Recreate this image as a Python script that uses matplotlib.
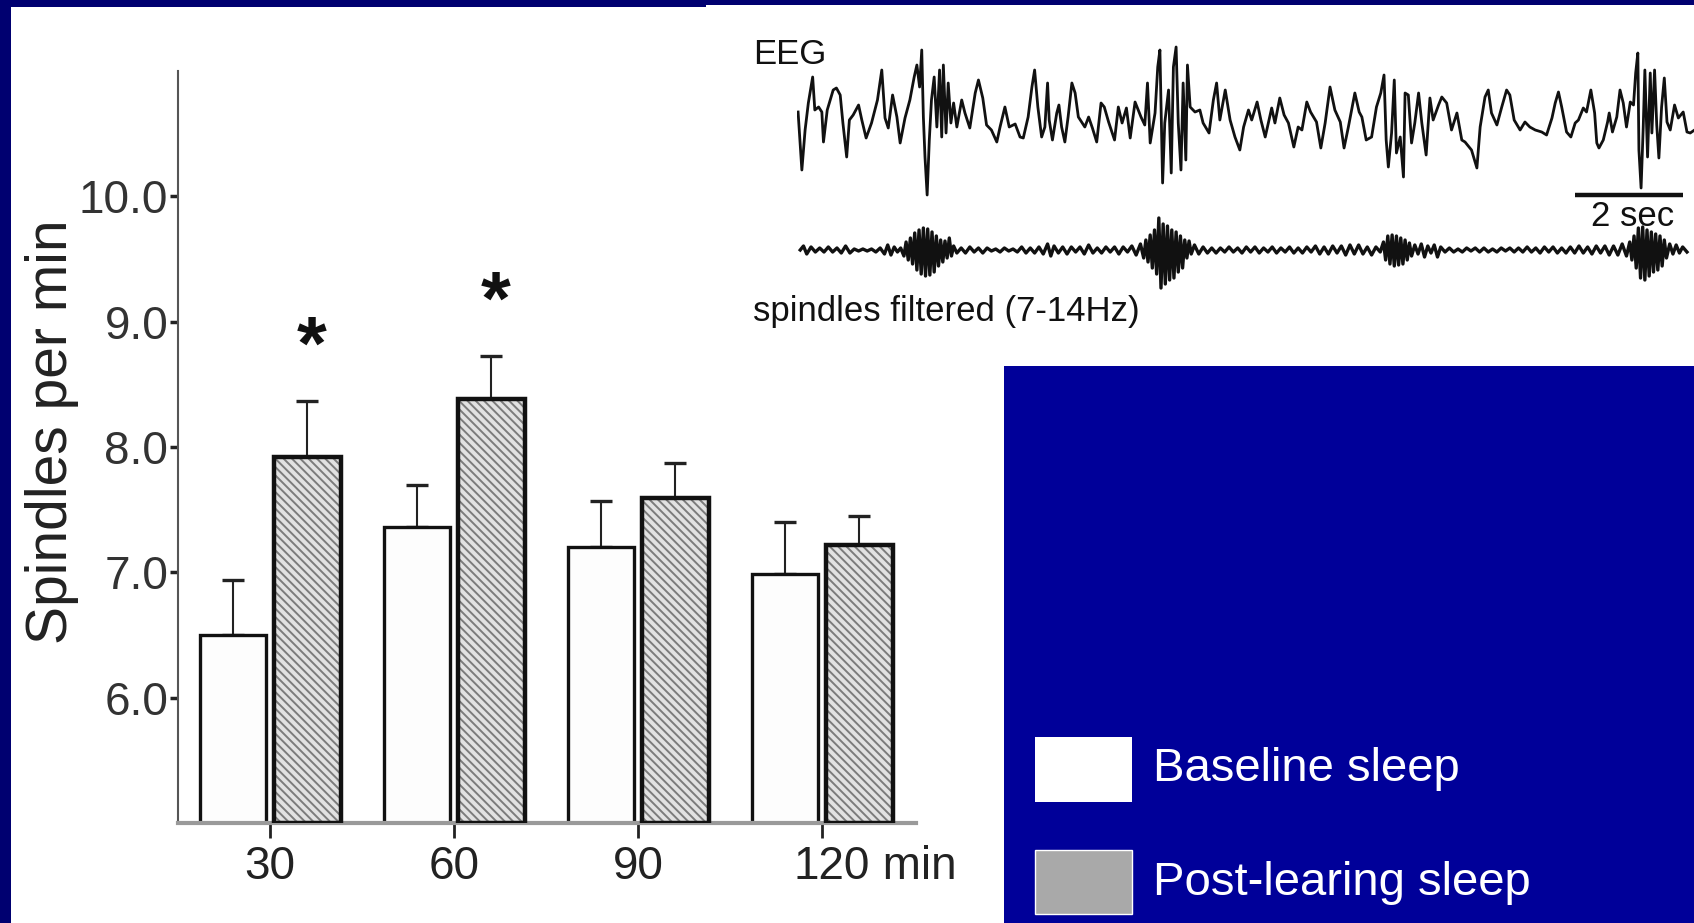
import numpy as np
import matplotlib
matplotlib.use("Agg")
import matplotlib.pyplot as plt
from matplotlib.patches import Rectangle
from matplotlib.transforms import ScaledTranslation

plt.rcParams['font.family'] = ['Liberation Sans', 'DejaVu Sans']
plt.rcParams['hatch.linewidth'] = 1.4

# bar chart data
categories = ['30', '60', '90', '120']
baseline = [6.50, 7.36, 7.20, 6.99]
baseline_sem = [0.44, 0.34, 0.37, 0.41]
post = [7.92, 8.38, 7.59, 7.22]
post_sem = [0.45, 0.35, 0.28, 0.23]
star_groups = [0, 1]
star_heights = [8.89, 9.25]
y_ticks = [6, 7, 8, 9, 10]
y_ticklabels = ['6.0', '7.0', '8.0', '9.0', '10.0']

# EEG trace: (seconds, amplitude a.u.)
eeg_points = [
    (0.02, 8), (0.09, -50), (0.15, -10), (0.21, 17), (0.29, 43), (0.33, 10), (0.40, 13), (0.46, 8),
    (0.49, -22), (0.56, 10), (0.67, 30), (0.73, 32), (0.80, 25), (0.85, -3), (0.92, -37), (0.97, 0),
    (1.04, 5), (1.14, 15), (1.20, 0), (1.28, -18), (1.38, -3), (1.49, 20), (1.57, 50), (1.63, 2),
    (1.69, -8), (1.77, 25), (1.85, 3), (1.91, -23), (2.00, 2), (2.09, 20), (2.17, 43), (2.22, 55),
    (2.27, 33), (2.31, 70), (2.34, 3), (2.37, -37), (2.41, -75), (2.45, -20), (2.49, 20), (2.54, 43),
    (2.59, -7), (2.64, 50), (2.68, -17), (2.71, 55), (2.76, -13), (2.80, 37), (2.85, -3), (2.90, 17),
    (2.96, -7), (3.05, 20), (3.11, 7), (3.20, -8), (3.30, 27), (3.36, 40), (3.44, 22), (3.51, -5),
    (3.60, -10), (3.70, -22), (3.76, -7), (3.85, 13), (3.93, -7), (4.04, -4), (4.13, -17), (4.19, -18),
    (4.28, 3), (4.35, 33), (4.40, 50), (4.46, 13), (4.53, -17), (4.59, -7), (4.64, 37), (4.67, 0),
    (4.73, -20), (4.81, 7), (4.85, 15), (4.90, -7), (4.96, -22), (5.02, 3), (5.09, 37), (5.15, 27),
    (5.21, 3), (5.27, -2), (5.33, -7), (5.40, 3), (5.47, -8), (5.55, -22), (5.63, 17), (5.69, 13),
    (5.77, -2), (5.88, -20), (5.95, 13), (6.02, -3), (6.10, 12), (6.17, -18), (6.26, 18), (6.37, 3),
    (6.44, -5), (6.49, 37), (6.54, -23), (6.63, 7), (6.68, 53), (6.72, 70), (6.77, -63), (6.81, -3),
    (6.88, 30), (6.93, -53), (6.97, 53), (7.02, 73), (7.06, -3), (7.11, -50), (7.15, 37), (7.20, -40),
    (7.23, 55), (7.28, 13), (7.37, 8), (7.46, 10), (7.52, -3), (7.63, -13), (7.71, 20), (7.77, 37),
    (7.83, 0), (7.93, 30), (8.02, 0), (8.11, -17), (8.20, -30), (8.27, -7), (8.36, 10), (8.42, 0),
    (8.52, 18), (8.59, 0), (8.67, -17), (8.79, 12), (8.85, -3), (8.94, 22), (9.02, 5), (9.10, -3),
    (9.20, -27), (9.28, -7), (9.35, -10), (9.44, 18), (9.51, 8), (9.62, -2), (9.70, -28), (9.78, -3),
    (9.87, 33), (9.96, 10), (10.06, -2), (10.13, -28), (10.21, -7), (10.33, 27), (10.41, 8), (10.46, 3),
    (10.54, -20), (10.64, -17), (10.73, 13), (10.81, 27), (10.87, 45), (10.91, -20), (10.95, -47),
    (11.01, -13), (11.06, 40), (11.10, -33), (11.17, -17), (11.23, -57), (11.26, 27), (11.32, 25),
    (11.38, -23), (11.44, -3), (11.51, 27), (11.57, -3), (11.65, -35), (11.72, 22), (11.78, 0),
    (11.88, 15), (11.94, 23), (12.03, 17), (12.12, -10), (12.22, 7), (12.31, -20), (12.37, -22),
    (12.49, -30), (12.59, -48), (12.65, -7), (12.74, 23), (12.80, 30), (12.86, 7), (12.96, -5),
    (13.05, 13), (13.14, 30), (13.20, 25), (13.28, 0), (13.39, -10), (13.48, -2), (13.57, -7),
    (13.67, -10), (13.79, -12), (13.88, -15), (13.98, 2), (14.04, 17), (14.10, 28), (14.16, 13),
    (14.25, -12), (14.33, -17), (14.41, -3), (14.47, 0), (14.56, 12), (14.62, 8), (14.70, 30),
    (14.77, 7), (14.81, -23), (14.85, -28), (14.93, -20), (15.01, -2), (15.04, 7), (15.10, -12),
    (15.18, 3), (15.24, 30), (15.30, 17), (15.36, -7), (15.43, 18), (15.49, 15), (15.53, 47),
    (15.57, 67), (15.59, -30), (15.63, -68), (15.67, -7), (15.70, 50), (15.75, -37), (15.80, 47),
    (15.83, -13), (15.88, 50), (15.92, -5), (15.96, -38), (16.01, 13), (16.06, 42), (16.11, -2),
    (16.17, -10), (16.25, 15), (16.32, 2), (16.41, 8), (16.48, -12), (16.54, -13), (16.62, -10),
]

# spindle band (7-14Hz) filtered trace
filt_points = [
    (0.06, 0), (0.12, 4), (0.18, -4), (0.26, 3), (0.34, -2), (0.42, 2), (0.50, -2), (0.58, 3),
    (0.66, -2), (0.74, 2), (0.82, -3), (0.90, 4), (0.98, -3), (1.06, 1), (1.14, -1), (1.22, 1),
    (1.30, -1), (1.38, 1), (1.46, -2), (1.54, 2), (1.62, -4), (1.68, 5), (1.74, -5), (1.80, 3),
    (1.86, -2), (1.92, 2), (1.98, -6), (2.02, 8), (2.06, -10), (2.10, 12), (2.14, -14), (2.18, 17),
    (2.22, -20), (2.26, 20), (2.30, -24), (2.34, 22), (2.38, -26), (2.42, 21), (2.46, -25), (2.50, 18),
    (2.54, -22), (2.58, 14), (2.62, -16), (2.66, 10), (2.70, -12), (2.74, 9), (2.78, -8), (2.82, 12),
    (2.86, -6), (2.90, 4), (2.96, -3), (3.04, 2), (3.12, -3), (3.20, 3), (3.28, -2), (3.36, 2),
    (3.44, -3), (3.52, 2), (3.60, -1), (3.68, 1), (3.76, -2), (3.84, 2), (3.92, -1), (4.00, 1),
    (4.08, -2), (4.16, 3), (4.24, -3), (4.32, 2), (4.40, -3), (4.48, 3), (4.56, -4), (4.64, 6),
    (4.70, -6), (4.76, 4), (4.84, -3), (4.92, 3), (5.00, -4), (5.08, 3), (5.16, -2), (5.24, 3),
    (5.32, -4), (5.40, 5), (5.48, -3), (5.56, 2), (5.64, -3), (5.72, 3), (5.80, -2), (5.88, 3),
    (5.96, -4), (6.04, 3), (6.12, -2), (6.20, 4), (6.28, -5), (6.36, 6), (6.42, -8), (6.46, 10),
    (6.50, -12), (6.54, 15), (6.58, -18), (6.62, 20), (6.66, -24), (6.70, 32), (6.74, -38), (6.78, 26),
    (6.82, -34), (6.86, 24), (6.90, -30), (6.94, 20), (6.98, -28), (7.02, 18), (7.06, -22), (7.10, 14),
    (7.14, -18), (7.18, 10), (7.22, -8), (7.26, 9), (7.30, -4), (7.36, 5), (7.44, -4), (7.52, 3),
    (7.60, -3), (7.68, 2), (7.76, -3), (7.84, 2), (7.92, -2), (8.00, 3), (8.08, -2), (8.16, 2),
    (8.24, -3), (8.32, 3), (8.40, -2), (8.48, 3), (8.56, -3), (8.64, 2), (8.72, -2), (8.80, 3),
    (8.88, -3), (8.96, 2), (9.04, -2), (9.12, 3), (9.20, -3), (9.28, 2), (9.36, -3), (9.44, 3),
    (9.52, -2), (9.60, 4), (9.68, -4), (9.76, 3), (9.84, -4), (9.92, 4), (10.00, -3), (10.08, 4),
    (10.16, -5), (10.24, 5), (10.32, -4), (10.40, 5), (10.48, -4), (10.56, 3), (10.64, -5), (10.72, 3),
    (10.80, -2), (10.86, 8), (10.90, -10), (10.94, 14), (10.98, -14), (11.02, 15), (11.06, -16),
    (11.10, 14), (11.14, -15), (11.18, 12), (11.22, -14), (11.26, 10), (11.30, -10), (11.34, 7),
    (11.38, -6), (11.44, 5), (11.50, -4), (11.56, 6), (11.62, -7), (11.68, 4), (11.74, -3), (11.80, 5),
    (11.86, -7), (11.92, 3), (12.00, -2), (12.08, 2), (12.16, -2), (12.24, 1), (12.32, -2), (12.40, 2),
    (12.48, -1), (12.56, 2), (12.64, -2), (12.72, 2), (12.80, -2), (12.88, 1), (12.96, -2), (13.04, 2),
    (13.12, -1), (13.20, 2), (13.28, -2), (13.36, 2), (13.44, -2), (13.52, 3), (13.60, -2), (13.68, 2),
    (13.76, -3), (13.84, 3), (13.92, -2), (14.00, 3), (14.08, -3), (14.16, 2), (14.24, -3), (14.32, 3),
    (14.40, -3), (14.48, 4), (14.56, -3), (14.64, 3), (14.72, -4), (14.80, 4), (14.88, -3), (14.96, 4),
    (15.04, -5), (15.12, 4), (15.20, -5), (15.28, 6), (15.36, -6), (15.42, 8), (15.46, -10), (15.50, 14),
    (15.54, -18), (15.58, 22), (15.62, -28), (15.66, 23), (15.70, -30), (15.74, 20), (15.78, -26),
    (15.82, 18), (15.86, -22), (15.90, 16), (15.94, -20), (15.98, 14), (16.02, -16), (16.06, 10),
    (16.10, -8), (16.16, 6), (16.22, -4), (16.28, 5), (16.34, -3), (16.40, 3), (16.48, -2),
]
scale_bar_start = 14.4
scale_bar_len = 2  # sec

W, H = 1694, 923
fig = plt.figure(figsize=(W / 100, H / 100), dpi=100)
fig.patch.set_facecolor('white')


def box(x0, y0, x1, y1):
    # pixel box (top-left origin) -> figure fraction rect
    return [x0 / W, 1 - y1 / H, (x1 - x0) / W, (y1 - y0) / H]


def rect(x0, y0, x1, y1, **kw):
    r = Rectangle((x0 / W, 1 - y1 / H), (x1 - x0) / W, (y1 - y0) / H,
                  transform=fig.transFigure, **kw)
    fig.add_artist(r)


# slide background pieces
rect(0, 0, 11, H, color='#000070', lw=0)
rect(0, 0, 706, 7, color='#000070', lw=0)
rect(706, 0, W, 5, color='#000070', lw=0)
rect(1004, 366, W, H, color='#000099', lw=0)

# ---- bar chart ----
ax = fig.add_axes(box(178, 71, 916, 823))
x = np.arange(1, len(categories) + 1)
width = 0.36
off = 0.203
ymin = 5

ax.bar(x - off, np.array(baseline) - ymin, width, bottom=ymin, color='#fdfdfd',
       edgecolor='#111111', linewidth=2.4, zorder=2)
ax.bar(x + off, np.array(post) - ymin, width, bottom=ymin, color='#e2e2e2',
       edgecolor='#7c7c7c', hatch='\\\\\\\\', linewidth=0, zorder=2)
ax.bar(x + off, np.array(post) - ymin, width, bottom=ymin, fill=False,
       edgecolor='#111111', linewidth=3.2, zorder=3)

zeros = np.zeros(len(categories))
for xs, vals, errs in [(x - off, baseline, baseline_sem), (x + off, post, post_sem)]:
    _, caps, _ = ax.errorbar(xs, vals, yerr=[zeros, errs], fmt='none', ecolor='#222222',
                             elinewidth=1.5, capsize=8, capthick=2.4, zorder=1)
    for c in caps:
        c.set_color('#7a7a7a')

for g, h in zip(star_groups, star_heights):
    ax.annotate('*', xy=(x[g] + off, h), xytext=(3, -10), textcoords='offset points',
                ha='center', va='center', fontsize=55, fontweight='bold', color='#111111')

ax.set_xlim(0.5, 4.51)
ax.set_ylim(ymin, 11)
ax.set_yticks(y_ticks, labels=y_ticklabels)
ax.set_xticks(x, labels=categories)
ax.tick_params(axis='y', direction='out', length=6, width=2.5, color='#222222', pad=1,
               labelsize=33, labelcolor='#333333')
ax.tick_params(axis='x', direction='out', length=11, width=2, color='#222222', pad=5,
               labelsize=33, labelcolor='#222222')
for s in ['top', 'right']:
    ax.spines[s].set_visible(False)
ax.spines['left'].set_color('#555555')
ax.spines['left'].set_linewidth(1.5)
ax.spines['bottom'].set_color('#9a9a9a')
ax.spines['bottom'].set_linewidth(3)
ax.set_facecolor('none')

last = ax.get_xticklabels()[-1]
last.set_transform(last.get_transform() + ScaledTranslation(0.10, 0, fig.dpi_scale_trans))
ax.annotate(' min', xy=(1, 0), xycoords=last, ha='left', va='bottom',
            fontsize=33, color='#222222')

fig.text(52 / W, 1 - 432 / H, 'Spindles per min', rotation=90, ha='center', va='center',
         fontsize=41, color='#222222')

# ---- EEG panel ----
eeg_ax = fig.add_axes(box(797, 40, W, 205))
et, ea = zip(*eeg_points)
eeg_ax.plot(et, ea, color='#111111', lw=2.0)
eeg_ax.plot([scale_bar_start, scale_bar_start + scale_bar_len], [-75, -75], color='#111111',
            lw=3.2, solid_capstyle='butt')
eeg_ax.set_xlim(0, 16.61)
eeg_ax.set_ylim(-85, 80)
eeg_ax.axis('off')

filt_ax = fig.add_axes(box(797, 205, W, 300))
ft, fa = zip(*filt_points)
filt_ax.plot(ft, fa, color='#111111', lw=2.4)
filt_ax.set_xlim(0, 16.61)
filt_ax.set_ylim(-50, 45)
filt_ax.axis('off')

fig.text(753 / W, 1 - 54 / H, 'EEG', ha='left', va='center', fontsize=25, color='#111111')
fig.text(753 / W, 1 - 312 / H, 'spindles filtered (7-14Hz)', ha='left', va='center',
         fontsize=25, color='#111111')
fig.text(1633 / W, 1 - 216 / H, '2 sec', ha='center', va='center', fontsize=25, color='#111111')

# ---- legend on blue panel ----
rect(1035, 737, 1132, 802, facecolor='white', edgecolor='none')
rect(1035, 850, 1132, 914, facecolor='#a9a9a9', edgecolor='white', lw=1)
fig.text(1153 / W, 1 - 769 / H, 'Baseline sleep', ha='left', va='center', fontsize=34,
         color='white')
fig.text(1153 / W, 1 - 883 / H, 'Post-learing sleep', ha='left', va='center', fontsize=34,
         color='white')

fig.savefig('out.png', dpi=100, facecolor='white')
